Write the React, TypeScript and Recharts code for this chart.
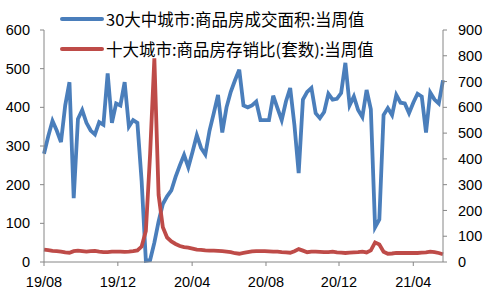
import { ComposedChart, Line, XAxis, YAxis } from "recharts";

const areaSales = [
  280, 325, 365, 340, 310, 405, 465, 165, 370, 393, 360, 340, 330, 362, 355, 488, 360, 410, 405, 465,
  350, 367, 360, 210, 3, 5, 50, 105, 150, 170, 185, 220, 250, 277, 245, 285, 328, 295, 278, 340,
  385, 432, 335, 400, 440, 470, 497, 405, 400, 405, 415, 367, 367, 367, 430, 398, 367, 415, 450, 354,
  230, 420, 440, 450, 385, 372, 388, 435, 420, 422, 437, 515, 405, 428, 393, 375, 445, 395, 90, 110,
  380, 398, 380, 432, 412, 410, 385, 412, 435, 428, 335, 438, 420, 410, 470,
];

const stockRatio = [
  48, 46, 43, 42, 40, 37, 36, 42, 44, 42, 40, 42, 43, 40, 38, 38, 40, 40, 40, 39,
  40, 42, 45, 60, 120, 420, 790, 260, 135, 95, 80, 70, 62, 58, 56, 52, 48, 47, 45, 44,
  44, 43, 42, 40, 38, 34, 32, 35, 38, 41, 42, 42, 42, 41, 40, 40, 38, 37, 36, 42,
  50, 44, 38, 40, 40, 39, 38, 38, 40, 37, 36, 35, 36, 37, 38, 40, 37, 45, 76, 68,
  40, 32, 33, 35, 35, 35, 35, 35, 35, 36, 37, 40, 38, 35, 30,
];

// month boundaries, in weeks from the first point
const tickWeeks = [0, 17.4, 34.9, 52.3, 69.5, 87.0];
const tickLabels = ["19/08", "19/12", "20/04", "20/08", "20/12", "21/04"];

const leftTicks = [0, 100, 200, 300, 400, 500, 600];
const rightTicks = [0, 100, 200, 300, 400, 500, 600, 700, 800, 900];

const seriesNames = ["30大中城市:商品房成交面积:当周值", "十大城市:商品房存销比(套数):当周值"];
const BLUE = "#4A7EBB";
const RED = "#BE4B48";

const data = areaSales.map((v, i) => ({ week: i, area: v, ratio: stockRatio[i] }));

const tickStyle = { fontFamily: "'Liberation Sans', Arial, sans-serif", fontSize: 14.5, fill: "#000" };

function ChartLegend() {
  const items = [
    { name: seriesNames[0], color: BLUE },
    { name: seriesNames[1], color: RED },
  ];
  return (
    <div
      style={{
        position: "absolute",
        left: 60,
        top: 4,
        fontFamily: "'Noto Sans CJK SC', sans-serif",
        fontSize: 16.5,
        color: "#000",
      }}
    >
      {items.map((it) => (
        <div key={it.name} style={{ display: "flex", alignItems: "center", height: 30 }}>
          <svg width={46} height={10}>
            <line x1={2} x2={42} y1={5} y2={5} stroke={it.color} strokeWidth={4} strokeLinecap="round" />
          </svg>
          <span style={{ whiteSpace: "nowrap" }}>{it.name}</span>
        </div>
      ))}
    </div>
  );
}

export default function App() {
  return (
    <div style={{ position: "absolute", left: 0, top: 0, width: 500, height: 298, background: "#fff" }}>
      <ComposedChart width={500} height={298} data={data} margin={{ top: 30, right: 0, bottom: 0, left: 0 }}>
        <XAxis
          dataKey="week"
          type="number"
          domain={[0, areaSales.length - 1]}
          ticks={tickWeeks}
          tickFormatter={(_v, i) => tickLabels[i]}
          height={36}
          stroke="#868686"
          tickSize={4}
          tickMargin={11}
          tick={tickStyle}
          interval={0}
        />
        <YAxis
          yAxisId="l"
          domain={[0, 600]}
          ticks={leftTicks}
          width={44}
          stroke="#868686"
          tickSize={4}
          tickMargin={10}
          tick={tickStyle}
          interval={0}
        />
        <YAxis
          yAxisId="r"
          orientation="right"
          domain={[0, 900]}
          ticks={rightTicks}
          width={57}
          stroke="#868686"
          tickSize={4}
          tickMargin={11}
          tick={{ ...tickStyle, textAnchor: "start" }}
          interval={0}
        />
        <Line yAxisId="l" dataKey="area" type="linear" stroke={BLUE} strokeWidth={3.8} dot={false} isAnimationActive={false} />
        <Line yAxisId="r" dataKey="ratio" type="linear" stroke={RED} strokeWidth={3.8} dot={false} isAnimationActive={false} />
      </ComposedChart>
      <ChartLegend />
    </div>
  );
}
